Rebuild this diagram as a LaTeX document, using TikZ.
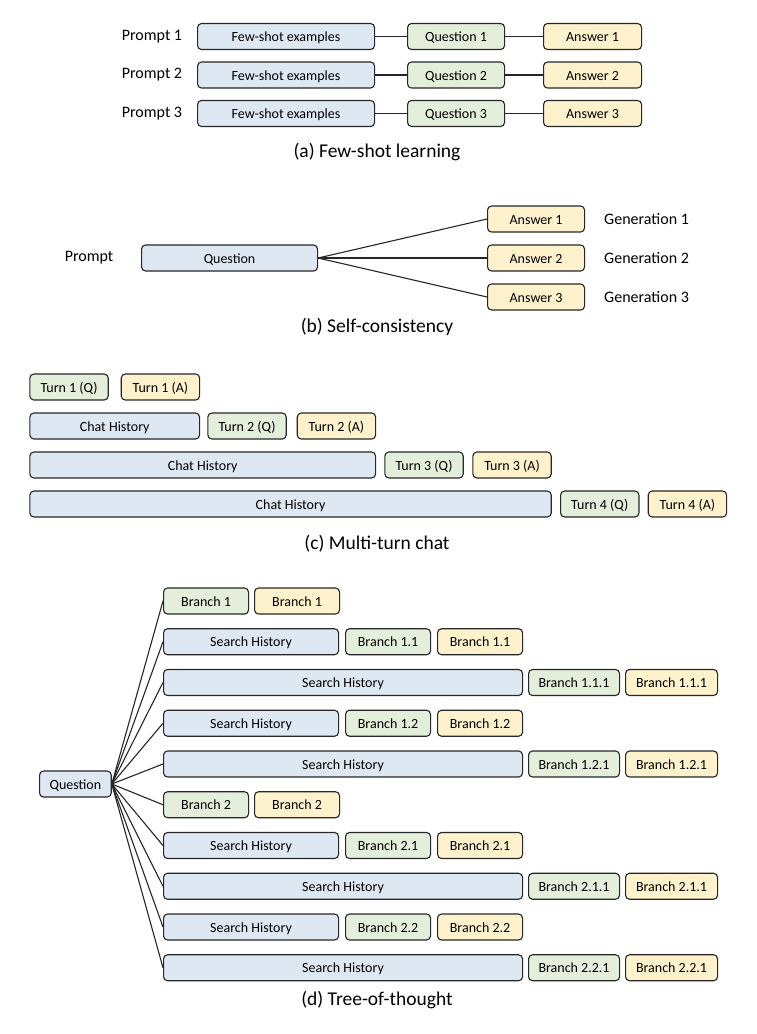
\documentclass[tikz,border=0pt]{standalone}
\usepackage{fontspec}
\setmainfont{Carlito}
\usepackage{tikz}

\definecolor{histblue}{HTML}{DEE8F3}
\definecolor{qgreen}{HTML}{E3EFDA}
\definecolor{ayellow}{HTML}{FEF2CD}
\definecolor{edgegray}{HTML}{262626}

\tikzset{
  box/.style={draw=edgegray, line width=1.1pt, rounded corners=4pt, anchor=west,
    minimum height=26pt, inner sep=0pt, text height=10pt, text depth=0pt,
    font=\fontsize{14}{16}\selectfont},
  hist/.style={box, fill=histblue},
  qbox/.style={box, fill=qgreen},
  abox/.style={box, fill=ayellow},
  lbl/.style={inner sep=0pt, font=\fontsize{16}{18}\selectfont},
  capt/.style={inner sep=0pt, font=\fontsize{19.5}{22}\selectfont},
  link/.style={draw=edgegray, line width=1.1pt}
}

\begin{document}
\begin{tikzpicture}[x=1pt,y=-1pt]
\useasboundingbox (0,0) rectangle (756,1034);

% (a) few-shot learning
\foreach \i/\yy in {1/36.5,2/75,3/113.5}{
  \node[lbl] (p\i) at (152,\yy) {Prompt \i};
  \node[hist,minimum width=177] (fs\i) at (197,\yy) {Few-shot examples};
  \node[qbox,minimum width=97] (q\i) at (407,\yy) {Question \i};
  \node[abox,minimum width=98] (a\i) at (543,\yy) {Answer \i};
  \draw[link] (fs\i.east) -- (q\i.west) (q\i.east) -- (a\i.west);
}
\node[capt] (capa) at (377,152) {(a) Few-shot learning};

% (b) self-consistency
\node[lbl] (sp) at (89,258) {Prompt};
\node[hist,minimum width=176] (sq) at (141,258) {Question};
\foreach \i/\yy in {1/219,2/258,3/297}{
  \node[abox,minimum width=97] (sa\i) at (487,\yy) {Answer \i};
  \node[lbl,anchor=west] (g\i) at (604,\yy) {Generation \i};
  \draw[link] (sq.east) -- (sa\i.west);
}
\node[capt] (capb) at (377,327) {(b) Self-consistency};

% (c) multi-turn chat
\node[qbox,minimum width=78.4] (t1q) at (29.3,387) {Turn 1 (Q)};
\node[abox,minimum width=78.4] (t1a) at (120.7,387) {Turn 1 (A)};
\node[hist,minimum width=169.7] (ch2) at (29.3,426) {Chat History};
\node[qbox,minimum width=78.4] (t2q) at (207.3,426) {Turn 2 (Q)};
\node[abox,minimum width=78.4] (t2a) at (296.7,426) {Turn 2 (A)};
\node[hist,minimum width=345.7] (ch3) at (29.3,465) {Chat History};
\node[qbox,minimum width=78.4] (t3q) at (384.3,465) {Turn 3 (Q)};
\node[abox,minimum width=78.4] (t3a) at (472.3,465) {Turn 3 (A)};
\node[hist,minimum width=521.4] (ch4) at (29.3,504) {Chat History};
\node[qbox,minimum width=78.4] (t4q) at (560,504) {Turn 4 (Q)};
\node[abox,minimum width=78.4] (t4a) at (647.7,504) {Turn 4 (A)};
\node[capt] (capc) at (377,544) {(c) Multi-turn chat};

% (d) tree-of-thought
\node[hist,minimum width=71.7] (tq) at (39,784) {Question};
% first-level branches
\foreach \k/\lab in {1/1,6/2}{
  \pgfmathsetmacro\yy{601+40.75*(\k-1)}
  \node[qbox,minimum width=85] (r\k) at (163,\yy) {Branch \lab};
  \node[abox,minimum width=85] (c\k) at (254,\yy) {Branch \lab};
  \draw[link] (tq.east) -- (r\k.west);
}
% short search history
\foreach \k/\lab in {2/1.1,4/1.2,7/2.1,9/2.2}{
  \pgfmathsetmacro\yy{601+40.75*(\k-1)}
  \node[hist,minimum width=175] (r\k) at (163,\yy) {Search History};
  \node[qbox,minimum width=85] (b\k) at (345,\yy) {Branch \lab};
  \node[abox,minimum width=85] (c\k) at (437,\yy) {Branch \lab};
  \draw[link] (tq.east) -- (r\k.west);
}
% long search history
\foreach \k/\lab in {3/1.1.1,5/1.2.1,8/2.1.1,10/2.2.1}{
  \pgfmathsetmacro\yy{601+40.75*(\k-1)}
  \node[hist,minimum width=359] (r\k) at (163,\yy) {Search History};
  \node[qbox,minimum width=91] (b\k) at (528,\yy) {Branch \lab};
  \node[abox,minimum width=92] (c\k) at (625,\yy) {Branch \lab};
  \draw[link] (tq.east) -- (r\k.west);
}
\node[capt] (capd) at (377,1000) {(d) Tree-of-thought};
\end{tikzpicture}
\end{document}
